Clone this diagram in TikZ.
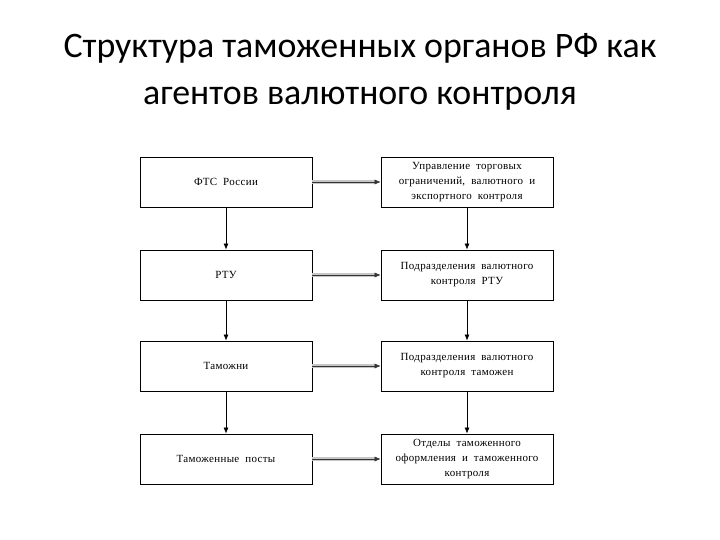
\documentclass[tikz,border=0pt]{standalone}
\usepackage{fontspec}
\setmainfont{Liberation Serif}
\newfontfamily\titlefont{Carlito}
\newfontfamily\boxfont[LetterSpace=3]{Liberation Serif}
\newcommand\unitfont{\boxfont\fontsize{11}{15}\selectfont\spaceskip=0.55em plus 0.1em\relax}
\usetikzlibrary{arrows.meta}

\begin{document}
\begin{tikzpicture}[x=1bp, y=-1bp,
    unit/.style={draw, line width=0.8pt, minimum width=172bp, minimum height=50bp,
        align=center, inner sep=2pt, font=\unitfont},
    down/.style={-{Latex[length=6bp,width=5bp]}, line width=0.7pt},
    across/.style={-{Latex[length=6bp,width=5bp]}, line width=0.5pt, black!80},
    shade/.style={gray!45, line width=3.5bp, shorten >=5bp}]
    % Page
    \useasboundingbox[fill=white] (0,0) rectangle (720,540);

    % Title
    \node[font=\titlefont\fontsize{36}{47}\selectfont, align=center] (title) at (360,72)
        {Структура таможенных органов РФ как\\агентов валютного контроля};

    % Left column
    \node[unit] (fts) at (226,182) {ФТС России};
    \node[unit] (rtu) at (226,275) {РТУ};
    \node[unit] (tam) at (226,366) {Таможни};
    \node[unit] (post) at (226,459) {Таможенные посты};

    % Right column
    \node[unit] (upr) at (467,182) {Управление торговых\\ограничений, валютного и\\экспортного контроля};
    \node[unit] (prtu) at (467,275) {Подразделения валютного\\контроля РТУ};
    \node[unit] (ptam) at (467,366) {Подразделения валютного\\контроля таможен};
    \node[unit] (otd) at (467,459) {Отделы таможенного\\оформления и таможенного\\контроля};

    % Vertical links
    \draw[down] (fts) -- (rtu);
    \draw[down] (rtu) -- (tam);
    \draw[down] (tam) -- (post);
    \draw[down] (upr) -- (prtu);
    \draw[down] (prtu) -- (ptam);
    \draw[down] (ptam) -- (otd);

    % Horizontal links
    \foreach \a/\b in {fts/upr, rtu/prtu, tam/ptam, post/otd} {
        \draw[shade] (\a) -- (\b);
        \draw[across] (\a) -- (\b);
    }
\end{tikzpicture}
\end{document}
